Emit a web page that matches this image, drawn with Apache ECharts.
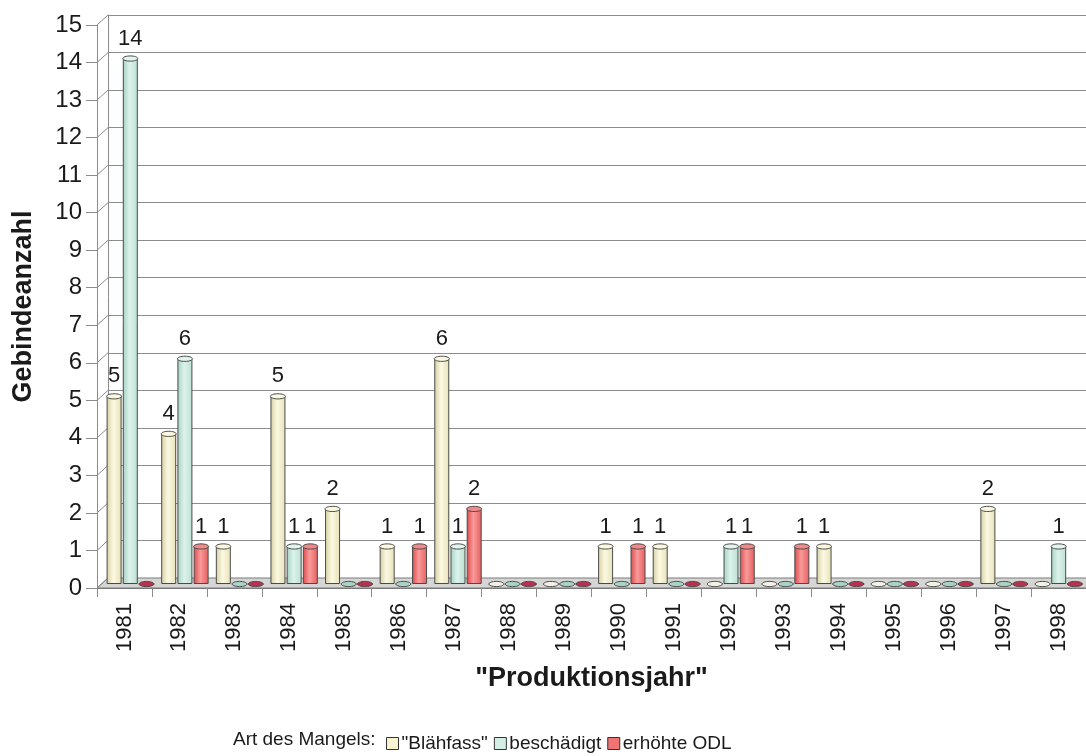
<!DOCTYPE html>
<html>
<head>
<meta charset="utf-8">
<title>Gebindeanzahl nach Produktionsjahr</title>
<script src="https://cdn.jsdelivr.net/npm/echarts@6/dist/echarts.min.js"></script>
<style>
  html, body { margin: 0; padding: 0; background: #ffffff; }
  #chart { width: 1086px; height: 756px; }
</style>
</head>
<body>
<div id="chart"></div>
<script>
// Production years on the category axis
const years = ['1981','1982','1983','1984','1985','1986','1987','1988','1989',
               '1990','1991','1992','1993','1994','1995','1996','1997','1998'];

// Number of containers per defect type
const blaehfass   = [5, 4, 1, 5, 2, 1, 6, 0, 0, 1, 1, 0, 0, 1, 0, 0, 2, 0];
const beschaedigt = [14, 6, 0, 1, 0, 0, 1, 0, 0, 0, 0, 1, 0, 0, 0, 0, 0, 1];
const erhoehteODL = [0, 1, 0, 1, 0, 1, 2, 0, 0, 1, 0, 1, 1, 0, 0, 0, 0, 0];

const seriesNames = ['"Blähfass"', 'beschädigt', 'erhöhte ODL'];
const yTicks = [0,1,2,3,4,5,6,7,8,9,10,11,12,13,14,15];

const FONT = '"Liberation Sans", Arial, sans-serif';

// Fake 3D depth: back wall is shifted right and up
const depthX = 11, depthY = 10;
const plot = { left: 97, top: 25, width: 990, height: 563 };
const BAR_W = 15, BAR_GAP = '8%';

// Cylinder shading per series
const palette = [
  { side: ['#d6d0a2', '#fbf9e2', '#e6e1b8'], cap: '#fbf8de', flat: '#f8f4d0' },
  { side: ['#a6d1c2', '#dcf3eb', '#bcdfd2'], cap: '#e2f4ee', flat: '#d3eee5' },
  { side: ['#d94a4a', '#f99a9a', '#e65e5e'], cap: '#f28888', flat: '#f07474' }
];
// flat discs drawn for empty years
const capZero = ['#f4f2e4', '#a9d3c4', '#b8324f'];

function sideGradient(c) {
  return new echarts.graphic.LinearGradient(0, 0, 1, 0, [
    { offset: 0, color: c[0] },
    { offset: 0.45, color: c[1] },
    { offset: 1, color: c[2] }
  ]);
}

const datasets = [blaehfass, beschaedigt, erhoehteODL];

const barSeries = datasets.map((values, i) => ({
  name: seriesNames[i],
  type: 'bar',
  xAxisIndex: 2,
  yAxisIndex: 2,
  barWidth: BAR_W,
  barGap: BAR_GAP,
  z: 5,
  data: values,
  itemStyle: {
    color: sideGradient(palette[i].side),
    borderColor: '#4a4a4a',
    borderWidth: 1
  },
  label: {
    show: true,
    position: 'top',
    distance: 9,
    fontFamily: FONT,
    fontSize: 22,
    color: '#1a1a1a',
    formatter: p => (p.value ? String(p.value) : '')
  }
}));

// Elliptic tops of the cylinders (and flat discs for zero values)
const capData = [];
datasets.forEach((values, s) => {
  values.forEach((v, k) => capData.push([k, v, s]));
});

const capSeries = {
  type: 'custom',
  xAxisIndex: 2,
  yAxisIndex: 2,
  silent: true,
  z: 7,
  data: capData,
  renderItem: function (params, api) {
    const s = api.value(2);
    const v = api.value(1);
    const pt = api.coord([api.value(0), v]);
    const layout = api.barLayout({ barWidth: BAR_W, barGap: BAR_GAP, count: 3 });
    return {
      type: 'ellipse',
      shape: { cx: pt[0] + layout[s].offsetCenter, cy: pt[1], rx: BAR_W / 2, ry: 2.6 },
      style: {
        fill: v ? palette[s].cap : capZero[s],
        stroke: '#4a4a4a',
        lineWidth: 1
      }
    };
  }
};

// Floor slab and the slanted tick connectors to the back wall
const frameSeries = {
  type: 'custom',
  xAxisIndex: 0,
  yAxisIndex: 0,
  silent: true,
  z: 1,
  data: yTicks.map(v => [0, v]),
  renderItem: function (params, api) {
    const cs = params.coordSys;
    const y = api.coord([0, api.value(1)])[1];
    const children = [{
      type: 'line',
      shape: { x1: cs.x, y1: y, x2: cs.x + depthX, y2: y - depthY },
      style: { stroke: '#8c8c8c', lineWidth: 1 }
    }];
    if (api.value(1) === 0) {
      children.unshift({
        type: 'polygon',
        shape: { points: [
          [cs.x, y], [cs.x + cs.width, y],
          [cs.x + cs.width + depthX, y - depthY], [cs.x + depthX, y - depthY]
        ] },
        style: { fill: '#d6d6d6', stroke: '#7a7a7a', lineWidth: 1 }
      });
    }
    return { type: 'group', children: children };
  }
};

const chart = echarts.init(document.getElementById('chart'), null, { renderer: 'canvas' });

chart.setOption({
  backgroundColor: '#ffffff',
  animation: false,
  grid: [
    // front: axis labels and ticks
    { left: plot.left, top: plot.top, width: plot.width, height: plot.height },
    // back wall: gridlines
    { left: plot.left + depthX, top: plot.top - depthY, width: plot.width, height: plot.height },
    // bars in the middle depth
    { left: plot.left + 6, top: plot.top - 4, width: plot.width, height: plot.height }
  ],
  xAxis: [
    {
      gridIndex: 0,
      type: 'category',
      data: years,
      boundaryGap: true,
      name: '"Produktionsjahr"',
      nameLocation: 'middle',
      nameGap: 77,
      nameTextStyle: { fontFamily: FONT, fontSize: 27, fontWeight: 'bold', color: '#1a1a1a' },
      axisLine: { show: true, lineStyle: { color: '#7a7a7a' } },
      axisTick: { show: true, interval: 0, length: 9, lineStyle: { color: '#8c8c8c' } },
      axisLabel: {
        interval: 0, rotate: 90, margin: 15,
        fontFamily: FONT, fontSize: 22, color: '#1a1a1a'
      },
      splitLine: { show: false }
    },
    { gridIndex: 1, type: 'category', data: years, show: false },
    { gridIndex: 2, type: 'category', data: years, show: false }
  ],
  yAxis: [
    {
      gridIndex: 0,
      type: 'value',
      min: 0, max: 15, interval: 1,
      name: 'Gebindeanzahl',
      nameLocation: 'middle',
      nameGap: 60,
      nameTextStyle: { fontFamily: FONT, fontSize: 27, fontWeight: 'bold', color: '#1a1a1a' },
      axisLine: { show: true, lineStyle: { color: '#8c8c8c' } },
      axisTick: { show: true, length: 11, lineStyle: { color: '#8c8c8c' } },
      axisLabel: { margin: 15, fontFamily: FONT, fontSize: 24, color: '#1a1a1a' },
      splitLine: { show: false }
    },
    {
      gridIndex: 1,
      type: 'value',
      min: 0, max: 15, interval: 1,
      axisLine: { show: true, lineStyle: { color: '#8c8c8c' } },
      axisTick: { show: false },
      axisLabel: { show: false },
      splitLine: { show: true, lineStyle: { color: '#8c8c8c', width: 1 } }
    },
    {
      gridIndex: 2,
      type: 'value',
      min: 0, max: 15, interval: 1,
      show: false
    }
  ],
  legend: {
    left: 381,
    top: 729,
    itemWidth: 12,
    itemHeight: 12,
    itemGap: 6,
    textStyle: { fontFamily: FONT, fontSize: 19, color: '#1a1a1a', padding: [0, 0, 0, -2] },
    data: seriesNames.map((n, i) => ({
      name: n,
      icon: 'rect',
      itemStyle: { color: palette[i].flat, borderColor: '#333', borderWidth: 1 }
    }))
  },
  graphic: [{
    type: 'text',
    left: 233,
    top: 730,
    style: { text: 'Art des Mangels:', font: '19px ' + FONT, fill: '#1a1a1a' }
  }],
  series: [frameSeries].concat(barSeries, [capSeries])
});
</script>
</body>
</html>
